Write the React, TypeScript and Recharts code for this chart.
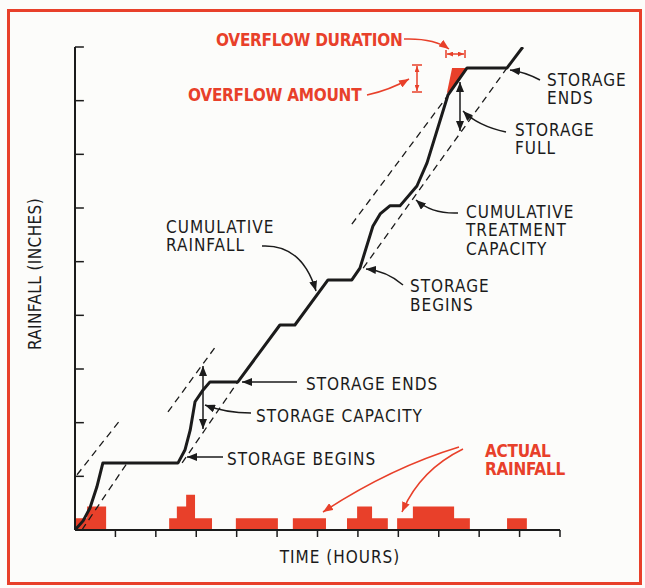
import React from 'react';
import { ComposedChart, Line, Area, XAxis, YAxis, ReferenceLine } from 'recharts';

const RED = '#e8402a';
const INK = '#1b1b1b';
const FONT = '"Liberation Sans Narrow", "DejaVu Sans Condensed", "Arial Narrow", sans-serif';

// axis ticks (hours / inches)
const xTicks = [1, 2, 3, 4, 5, 6, 7, 8, 9, 10, 11, 12];
const yTicks = [1, 2, 3, 4, 5, 6, 7, 8, 9];

// actual rainfall, step edges in hours and relative intensity
const rainHours = [0, 0.3, 0.77, 2.33, 2.52, 2.75, 2.97, 3.39, 3.98, 5.02, 5.39, 6.21, 6.73, 6.98, 7.35, 7.74, 7.97, 8.36, 9.38, 9.77, 10.69, 11.18];
const rainLevel = [1, 2, 0, 1, 2, 3, 1, 0, 1, 0, 1, 0, 1, 2, 1, 0, 1, 2, 1, 0, 1, 0];

// cumulative rainfall curve
const cumHours = [0, 0.2, 0.37, 0.54, 0.69, 2.55, 2.72, 2.85, 2.97, 3.17, 3.34, 4.03, 5.07, 5.44, 6.26, 6.85, 7.05, 7.37, 7.55, 7.79, 8.04, 8.46, 8.71, 9.23, 9.7, 10.69, 11.08];
const cumInches = [0, 0.17, 0.41, 0.8, 1.25, 1.25, 1.49, 1.86, 2.39, 2.61, 2.76, 2.76, 3.82, 3.82, 4.66, 4.66, 4.88, 5.66, 5.89, 6.04, 6.04, 6.41, 6.84, 8.11, 8.61, 8.61, 9.0];

// cumulative treatment capacity (lower dashed) and capacity + storage (upper dashed)
const treatHours = [[0.17, 1.29], [2.65, 4.03], [7.13, 10.69]];
const treatInches = [[0, 1.25], [1.25, 2.76], [4.88, 8.61]];
const limitHours = [[0.05, 1.14], [2.3, 3.51], [6.85, 9.2]];
const limitInches = [[1.03, 2.07], [2.2, 3.45], [5.7, 8.07]];

// overflow wedge
const overflowHours = [9.2, 9.33, 9.7];
const overflowLow = [8.14, 8.21, 8.61];
const overflowHigh = [8.14, 8.61, 8.61];

const txt = { fontFamily: FONT, fontSize: 17, letterSpacing: 1 };
const redTxt = { fontFamily: FONT, fontSize: 17, fontWeight: 700, letterSpacing: -0.25 };

const NoLabel = () => <g />;

export default function App() {
  const rainData = rainHours.map((t, i) => ({ t, rain: rainLevel[i] }));
  const cumData = cumHours.map((t, i) => ({ t, depth: cumInches[i] }));
  const treatLines = treatHours.map((hs, k) => hs.map((t, i) => ({ t, depth: treatInches[k][i] })));
  const limitLines = limitHours.map((hs, k) => hs.map((t, i) => ({ t, depth: limitInches[k][i] })));
  const overflowData = overflowHours.map((t, i) => ({ t, band: [overflowLow[i], overflowHigh[i]] }));

  return (
    <div style={{ position: 'absolute', left: 0, top: 0, width: 645, height: 588, background: '#fcfcfa', overflow: 'hidden' }}>
      <div style={{ position: 'absolute', left: 7, top: 9, width: 635, height: 576, border: `3px solid ${RED}`, boxSizing: 'border-box' }} />
      <div style={{ position: 'absolute', left: 0, top: 0 }}>
        <ComposedChart width={645} height={588} margin={{ top: 47, right: 85, bottom: 0, left: 75 }}>
          <XAxis
            dataKey="t"
            type="number"
            domain={[0, 12]}
            ticks={xTicks}
            allowDataOverflow
            height={58}
            tick={NoLabel}
            tickSize={7}
            axisLine={{ stroke: INK, strokeWidth: 2 }}
            tickLine={{ stroke: INK, strokeWidth: 1.5 }}
          />
          <YAxis
            yAxisId="depth"
            type="number"
            domain={[0, 9]}
            ticks={yTicks}
            allowDataOverflow
            width={0}
            mirror
            tick={NoLabel}
            tickLine={false}
            axisLine={{ stroke: INK, strokeWidth: 2 }}
          />
          <YAxis yAxisId="rain" type="number" domain={[0, 41]} hide />
          {/* rainfall axis line and its inward-pointing tick marks */}
          <ReferenceLine yAxisId="depth" segment={[{ x: 0, y: 0 }, { x: 0, y: 9 }]} stroke={INK} strokeWidth={2} ifOverflow="visible" />
          {yTicks.map((v) => (
            <ReferenceLine
              key={'yt' + v}
              yAxisId="depth"
              segment={[{ x: 0, y: v }, { x: 0.22, y: v }]}
              stroke={INK}
              strokeWidth={1.5}
              ifOverflow="visible"
            />
          ))}
          <Area yAxisId="rain" data={rainData} dataKey="rain" type="stepAfter" stroke="none" fill={RED} fillOpacity={1} isAnimationActive={false} />
          {treatLines.map((d, k) => (
            <Line key={'treat' + k} yAxisId="depth" data={d} dataKey="depth" stroke={INK} strokeWidth={1.3} strokeDasharray="7 5" dot={false} activeDot={false} isAnimationActive={false} />
          ))}
          {limitLines.map((d, k) => (
            <Line key={'limit' + k} yAxisId="depth" data={d} dataKey="depth" stroke={INK} strokeWidth={1.3} strokeDasharray="7 5" dot={false} activeDot={false} isAnimationActive={false} />
          ))}
          <Area yAxisId="depth" data={overflowData} dataKey="band" type="linear" stroke="none" fill={RED} fillOpacity={1} isAnimationActive={false} />
          <Line yAxisId="depth" data={cumData} dataKey="depth" stroke={INK} strokeWidth={3} strokeLinejoin="round" dot={false} activeDot={false} isAnimationActive={false} />
        </ComposedChart>
      </div>
      <svg width={645} height={588} style={{ position: 'absolute', left: 0, top: 0, pointerEvents: 'none' }}>
        <defs>
          <marker id="hk" viewBox="0 0 10 8" refX={10} refY={4} markerWidth={10} markerHeight={8} markerUnits="userSpaceOnUse" orient="auto-start-reverse">
            <path d="M0,0 L10,4 L0,8 z" fill={INK} />
          </marker>
          <marker id="hr" viewBox="0 0 10 8" refX={10} refY={4} markerWidth={10} markerHeight={8} markerUnits="userSpaceOnUse" orient="auto-start-reverse">
            <path d="M0,0 L10,4 L0,8 z" fill={RED} />
          </marker>
          <marker id="hrs" viewBox="0 0 10 8" refX={10} refY={4} markerWidth={6} markerHeight={5} markerUnits="userSpaceOnUse" orient="auto-start-reverse">
            <path d="M0,0 L10,4 L0,8 z" fill={RED} />
          </marker>
        </defs>

        {/* axis titles */}
        <text x={340} y={563} textAnchor="middle" fill={INK} style={txt}>TIME (HOURS)</text>
        <text x={41} y={274} textAnchor="middle" fill={INK} transform="rotate(-90 41 274)" style={{ ...txt, letterSpacing: 0.4 }}>RAINFALL (INCHES)</text>

        {/* black annotations */}
        <g fill={INK} style={txt}>
          <text x={166} y={233}>CUMULATIVE</text>
          <text x={166} y={251}>RAINFALL</text>
          <text x={466} y={218}>CUMULATIVE</text>
          <text x={466} y={236}>TREATMENT</text>
          <text x={466} y={255}>CAPACITY</text>
          <text x={410} y={292}>STORAGE</text>
          <text x={410} y={311}>BEGINS</text>
          <text x={547} y={86}>STORAGE</text>
          <text x={547} y={104}>ENDS</text>
          <text x={515} y={136}>STORAGE</text>
          <text x={515} y={154}>FULL</text>
          <text x={306} y={390}>STORAGE ENDS</text>
          <text x={256} y={422}>STORAGE CAPACITY</text>
          <text x={227} y={465}>STORAGE BEGINS</text>
        </g>
        <g fill="none" stroke={INK} strokeWidth={1.5}>
          <path d="M262,246 Q302,244 316,291" markerEnd="url(#hk)" />
          <path d="M458,213 Q432,214 416,200" markerEnd="url(#hk)" />
          <path d="M403,285 Q387,271 366,269" markerEnd="url(#hk)" />
          <path d="M540,80 Q525,72 510,70" markerEnd="url(#hk)" />
          <path d="M506,132 Q478,126 463,111" markerEnd="url(#hk)" />
          <path d="M297,382 L242,382" markerEnd="url(#hk)" />
          <path d="M251,413 Q226,413 205,405" markerEnd="url(#hk)" />
          <path d="M223,457 L187,457" markerEnd="url(#hk)" />
          <path d="M203,366 L203,429" markerStart="url(#hk)" markerEnd="url(#hk)" />
          <path d="M460,82 L460,131" markerStart="url(#hk)" markerEnd="url(#hk)" />
        </g>

        {/* red annotations */}
        <g fill={RED} style={redTxt}>
          <text x={216} y={46}>OVERFLOW DURATION</text>
          <text x={188} y={101}>OVERFLOW AMOUNT</text>
          <text x={485} y={457}>ACTUAL</text>
          <text x={485} y={475}>RAINFALL</text>
        </g>
        <g fill="none" stroke={RED} strokeWidth={1.5}>
          <path d="M404,39 Q434,38 449,49" markerEnd="url(#hr)" />
          <path d="M367,95 Q390,90 409,79" markerEnd="url(#hr)" />
          <path d="M459,447 Q390,468 323,512" markerEnd="url(#hr)" />
          <path d="M463,449 Q420,470 402,512" markerEnd="url(#hr)" />
          <path d="M447,54 L464,54" markerStart="url(#hrs)" markerEnd="url(#hrs)" />
          <path d="M446,50 L446,58 M465,50 L465,58" />
          <path d="M417,66 L417,91" markerStart="url(#hrs)" markerEnd="url(#hrs)" />
          <path d="M412,65 L422,65 M412,92 L422,92" />
        </g>
      </svg>
    </div>
  );
}
